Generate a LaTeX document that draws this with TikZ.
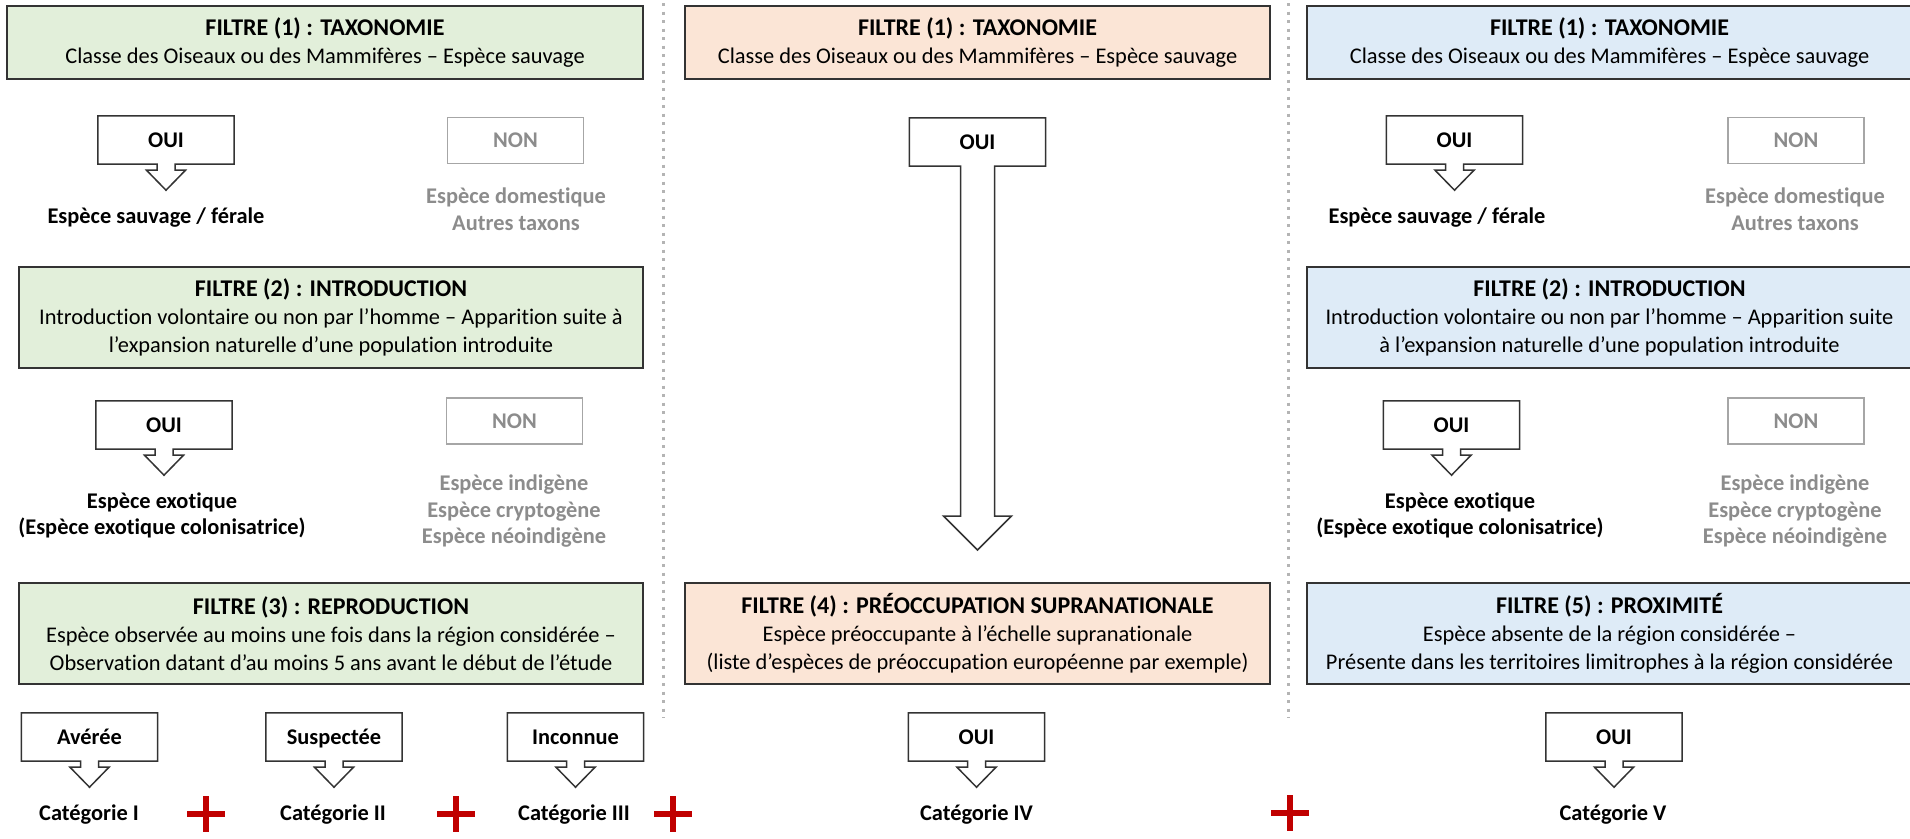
\documentclass[tikz,border=0pt]{standalone}
\usepackage{fontspec}
\setmainfont{Carlito}[Ligatures=NoCommon]
\usetikzlibrary{calc}
\definecolor{fgreen}{HTML}{E2EFDA}
\definecolor{forange}{HTML}{FBE5D6}
\definecolor{fblue}{HTML}{DEEBF7}
\definecolor{bord}{HTML}{333333}
\definecolor{nongray}{HTML}{A6A6A6}
\definecolor{ngtext}{HTML}{8C8C8C}
\definecolor{plusred}{HTML}{C00000}
\definecolor{sepgray}{HTML}{B4B4B4}
\tikzset{
 filt/.style={draw=bord, line width=1.8pt, inner sep=0pt, align=center, font=\fontsize{22.4}{28}\selectfont},
 ouibox/.style={inner sep=0pt, minimum width=136pt, minimum height=48pt, text height=14.5pt, text depth=0pt, font=\bfseries\fontsize{22.4}{27}\selectfont},
 outl/.style={draw=bord, line width=1.5pt, line join=miter},
 nonbox/.style={draw=nongray, line width=1.5pt, inner sep=0pt, minimum width=136pt, minimum height=46pt, text height=14.5pt, text depth=0pt, text=ngtext, font=\bfseries\fontsize{22.4}{27}\selectfont},
 lab/.style={inner sep=0pt, align=center, font=\bfseries\fontsize{22.4}{26.5}\selectfont},
 glab/.style={lab, text=ngtext},
 sepline/.style={draw=sepgray, line width=3pt, dash pattern=on 3pt off 5.5pt},
 plussign/.style={draw=plusred, line width=6pt},
}
\newcommand{\ttl}[1]{{\bfseries\fontsize{24}{28}\selectfont #1}}
\newcommand{\callout}[4]{%
 \node[ouibox] (#1) at (#2,#3) {#4};
 \draw[outl] (#1.south west) -- (#1.north west) -- (#1.north east) -- (#1.south east)
   -- ($(#1.south)+(9,0)$) -- ($(#1.south)+(9,6)$) -- ($(#1.south)+(19.5,6)$)
   -- ($(#1.south)+(0,26)$) -- ($(#1.south)+(-19.5,6)$) -- ($(#1.south)+(-9,6)$)
   -- ($(#1.south)+(-9,0)$) -- cycle;
}
\newcommand{\plusat}[3]{%
 \coordinate (#1) at (#2,#3);
 \draw[plussign] ($(#1)+(-19,0)$) -- ($(#1)+(19,0)$);
 \draw[plussign] ($(#1)+(0,-18)$) -- ($(#1)+(0,18)$);
}
\begin{document}
\begin{tikzpicture}[x=1pt,y=-1pt]
\useasboundingbox[fill=white] (0,0) rectangle (1910,838);

% separators
\draw[sepline] (663.5,3) -- (663.5,718);
\draw[sepline] (1288,3) -- (1288,718);

% ---------- column 1 (green) ----------
\node[filt, fill=fgreen, minimum width=636pt, minimum height=73pt] (g1) at (325,42.5)
 {\ttl{FILTRE (1) : TAXONOMIE}\\Classe des Oiseaux ou des Mammifères – Espèce sauvage};
\callout{go1}{166}{140}{OUI}
\node[lab] (gs1) at (156,218) {Espèce sauvage / férale};
\node[nonbox] (gn1) at (515.5,140.5) {NON};
\node[glab] (gd1) at (516,209) {Espèce domestique\\Autres taxons};

\node[filt, fill=fgreen, minimum width=624pt, minimum height=101pt] (g2) at (331,317.5)
 {\ttl{FILTRE (2) : INTRODUCTION}\\Introduction volontaire ou non par l’homme – Apparition suite à\\l’expansion naturelle d’une population introduite};
\callout{go2}{164}{425}{OUI}
\node[lab] (ge2) at (162,515.5) {Espèce exotique\\(Espèce exotique colonisatrice)};
\node[nonbox] (gn2) at (514.5,421) {NON};
\node[glab] (gd2) at (514,511.5) {Espèce indigène\\Espèce cryptogène\\Espèce néoindigène};

\node[filt, fill=fgreen, minimum width=624pt, minimum height=101pt] (g3) at (331,633.5)
 {\ttl{FILTRE (3) : REPRODUCTION}\\Espèce observée au moins une fois dans la région considérée –\\Observation datant d’au moins 5 ans avant le début de l’étude};
\callout{ga}{89.5}{737}{Avérée}
\callout{gsu}{334}{737}{Suspectée}
\callout{gin}{575.5}{737}{Inconnue}
\node[lab] (c1) at (89,815) {Catégorie I};
\node[lab] (c2) at (333,815) {Catégorie II};
\node[lab] (c3) at (574,815) {Catégorie III};
\plusat{p1}{206}{814}
\plusat{p2}{456}{814}
\plusat{p3}{673}{814}

% ---------- column 2 (orange) ----------
\node[filt, fill=forange, minimum width=585pt, minimum height=73pt] (o1) at (977.5,42.5)
 {\ttl{FILTRE (1) : TAXONOMIE}\\Classe des Oiseaux ou des Mammifères – Espèce sauvage};
\node[ouibox] (oo1) at (977.5,142) {OUI};
\coordinate (ot) at (977.5,550);
\draw[outl] (oo1.south west) -- (oo1.north west) -- (oo1.north east) -- (oo1.south east)
  -- ($(oo1.south)+(17,0)$) -- ($(ot)+(17,-34)$) -- ($(ot)+(34,-34)$) -- (ot)
  -- ($(ot)+(-34,-34)$) -- ($(ot)+(-17,-34)$) -- ($(oo1.south)+(-17,0)$) -- cycle;
\node[filt, fill=forange, minimum width=585pt, minimum height=101pt] (o4) at (977.5,633.5)
 {\ttl{FILTRE (4) : PRÉOCCUPATION SUPRANATIONALE}\\Espèce préoccupante à l’échelle supranationale\\(liste d’espèces de préoccupation européenne par exemple)};
\callout{oo4}{976.5}{737}{OUI}
\node[lab] (c4) at (976.5,815) {Catégorie IV};
\plusat{p4}{1290}{813}

% ---------- column 3 (blue) ----------
\node[filt, fill=fblue, minimum width=605pt, minimum height=73pt] (b1) at (1609.5,42.5)
 {\ttl{FILTRE (1) : TAXONOMIE}\\Classe des Oiseaux ou des Mammifères – Espèce sauvage};
\callout{bo1}{1454.5}{140}{OUI}
\node[lab] (bs1) at (1437,218) {Espèce sauvage / férale};
\node[nonbox] (bn1) at (1796,140.5) {NON};
\node[glab] (bd1) at (1795,209) {Espèce domestique\\Autres taxons};

\node[filt, fill=fblue, minimum width=605pt, minimum height=101pt] (b2) at (1609.5,317.5)
 {\ttl{FILTRE (2) : INTRODUCTION}\\Introduction volontaire ou non par l’homme – Apparition suite\\à l’expansion naturelle d’une population introduite};
\callout{bo2}{1451.5}{425}{OUI}
\node[lab] (be2) at (1460,515.5) {Espèce exotique\\(Espèce exotique colonisatrice)};
\node[nonbox] (bn2) at (1796,421) {NON};
\node[glab] (bd2) at (1795,511.5) {Espèce indigène\\Espèce cryptogène\\Espèce néoindigène};

\node[filt, fill=fblue, minimum width=605pt, minimum height=101pt] (b5) at (1609.5,633.5)
 {\ttl{FILTRE (5) : PROXIMITÉ}\\Espèce absente de la région considérée –\\Présente dans les territoires limitrophes à la région considérée};
\callout{bo5}{1614}{737}{OUI}
\node[lab] (c5) at (1613,815) {Catégorie V};
\end{tikzpicture}
\end{document}
